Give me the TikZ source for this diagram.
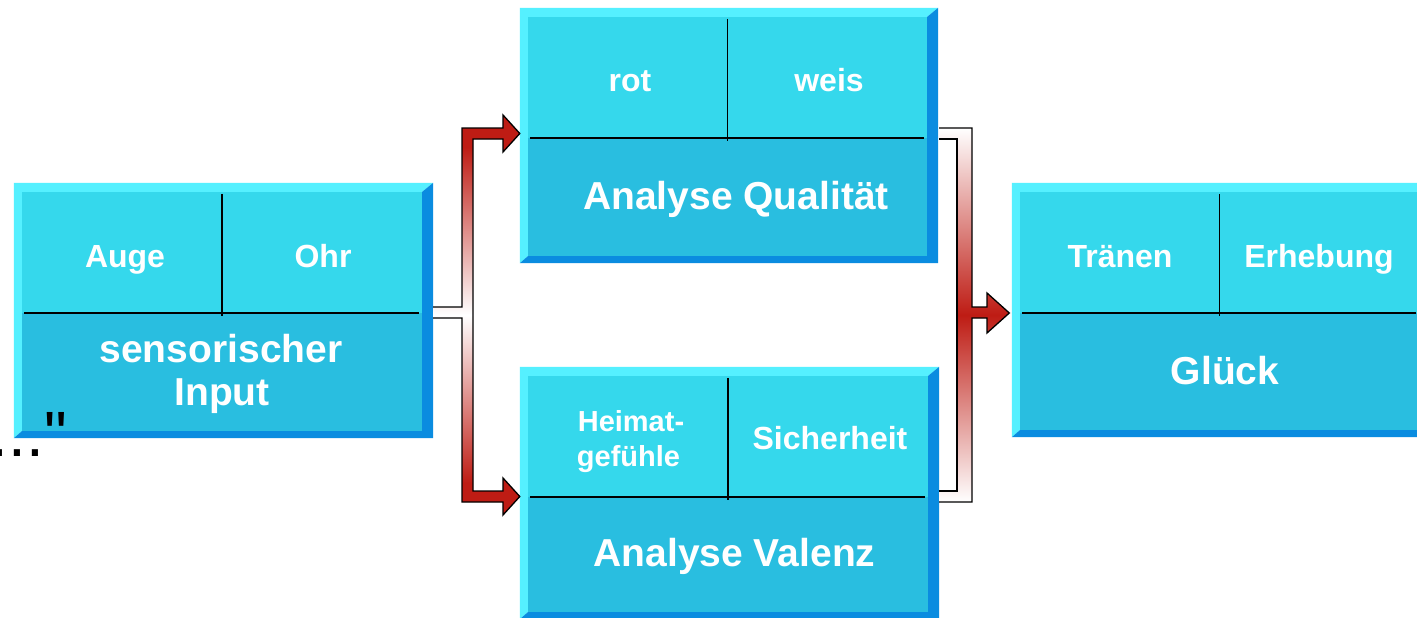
\documentclass[tikz,border=0pt]{standalone}
\usepackage{fontspec}
\setmainfont{Liberation Sans}
\newfontfamily\rawsans{Liberation Sans}
\usetikzlibrary{calc}

\definecolor{bevlight}{RGB}{85,240,255}
\definecolor{facetop}{RGB}{53,216,236}
\definecolor{facebot}{RGB}{41,190,224}
\definecolor{bevdark}{RGB}{10,140,224}
\definecolor{arrowred}{RGB}{190,28,20}

% red at both branch ends, fading to white where the stem joins
\pgfdeclareverticalshading{forkshade}{100bp}{color(0bp)=(arrowred); color(29bp)=(arrowred); color(50bp)=(white); color(71bp)=(arrowred); color(100bp)=(arrowred)}
% white at both branch ends, deepening to red at the outgoing stem
\pgfdeclareverticalshading{mergeshade}{100bp}{color(0bp)=(white); color(25bp)=(white); color(50bp)=(arrowred); color(75bp)=(white); color(100bp)=(white)}

% bevelled frame, upper band and cell dividers of a box node
\newcommand\boxdeco[1]{%
  \fill[facetop] (#1.north west) rectangle ([yshift=-121pt]#1.north east);
  \fill[bevlight] ([xshift=-8pt,yshift=9pt]#1.north west) -- ([xshift=11pt,yshift=9pt]#1.north east)
     -- (#1.north east) -- (#1.north west) -- (#1.south west) -- ([xshift=-8pt,yshift=-7pt]#1.south west) -- cycle;
  \fill[bevdark] ([xshift=11pt,yshift=9pt]#1.north east) -- ([xshift=11pt,yshift=-7pt]#1.south east)
     -- ([xshift=-8pt,yshift=-7pt]#1.south west) -- (#1.south west) -- (#1.south east) -- (#1.north east) -- cycle;
  \draw[divider] ([xshift=2pt,yshift=-121pt]#1.north west) -- ([xshift=-3pt,yshift=-121pt]#1.north east);
  \draw[divider] ([yshift=-2pt]#1.north) -- ([yshift=-124pt]#1.north);
}

\begin{document}
\begin{tikzpicture}[x=1pt,y=-1pt,
  face/.style={draw=none, fill=facebot, minimum width=400pt, minimum height=239pt, inner sep=0pt},
  divider/.style={draw=black, line width=1.5pt},
  cell/.style={text=white, font=\bfseries\fontsize{32}{38}\selectfont, anchor=base, inner sep=0pt},
  smallcell/.style={text=white, font=\bfseries\fontsize{29}{35}\selectfont, anchor=base, inner sep=0pt},
  title/.style={text=white, font=\bfseries\fontsize{39}{44}\selectfont, anchor=base, inner sep=0pt},
  arrowline/.style={draw=black, line width=1.3pt, line join=miter},
]
\path[use as bounding box, fill=white] (0,0) rectangle (1417,618);
\clip (0,0) rectangle (1417,618);

% boxes
\node[face] (sens) at (222,311.5) {};
\node[face, minimum width=399pt] (qual) at (727.5,136.5) {};
\node[face, minimum height=236pt] (val) at (728,494) {};
\node[face, minimum width=399pt, minimum height=238pt] (glueck) at (1219.5,311) {};
\boxdeco{sens}
\boxdeco{qual}
\boxdeco{val}
\boxdeco{glueck}

% labels
\node[cell] (auge) at (125,267) {Auge};
\node[cell] (ohr) at (323,267) {Ohr};
\node[title] (sensA) at (221,362) {sensorischer};
\node[title] (sensB) at (222,405) {Input};
\node[cell] (rot) at (630,92) {rot};
\node[cell] (weis) at (829,92) {weis};
\node[title] (qualT) at (736,209) {Analyse Qualität};
\node[smallcell] (heimA) at (631,431) {Heimat-};
\node[smallcell] (heimB) at (628.5,466) {gefühle};
\node[cell] (sicher) at (830,449) {Sicherheit};
\node[title] (valT) at (734.5,566) {Analyse Valenz};
\node[cell] (traenen) at (1120,267) {Tränen};
\node[cell] (erhebung) at (1319,267) {Erhebung};
\node[title] (glueckT) at (1225,384) {Glück};

% trailing marks at the lower left
\node[font=\rawsans\fontsize{64}{70}\selectfont, anchor=base east, inner sep=0pt] (trail) at (67,456) {...."};

% connector end points
\coordinate (sensOut) at ([xshift=11pt,yshift=-1pt]sens.east);
\coordinate (qualIn) at ([xshift=-8pt,yshift=3pt]qual.west);
\coordinate (valIn) at ([xshift=-8pt,yshift=-2.5pt]val.west);
\coordinate (qualOut) at ([xshift=12pt,yshift=3pt]qual.east);
\coordinate (valOut) at ([xshift=11pt,yshift=-2.5pt]val.east);
\coordinate (glueckIn) at ([xshift=-10.5pt,yshift=-2pt]glueck.west);

% fork arrow: sensory input to both analyses
\shade[shading=forkshade, arrowline]
  ($(sensOut)+(0,-5.5)$) -- (462,307) -- (462,128) -- (503,128) -- (503,115) -- (qualIn)
  -- (503,152) -- (503,139) -- (473,139) -- (473,491) -- (503,491) -- (503,478) -- (valIn)
  -- (503,515) -- (503,502) -- (462,502) -- (462,318) -- ($(sensOut)+(0,5.5)$);

% merging arrow: both analyses to the result
\shade[shading=mergeshade]
  ($(qualOut)+(0,-5.5)$) -- (972,128) -- (972,307) -- (987,307) -- (987,293) -- (glueckIn)
  -- (987,333) -- (987,318) -- (972,318) -- (972,502) -- ($(valOut)+(0,5.5)$)
  -- ($(valOut)+(0,-5.5)$) -- (957,491) -- (957,139) -- ($(qualOut)+(0,5.5)$) -- cycle;
\draw[arrowline]
  ($(qualOut)+(0,-5.5)$) -- (972,128) -- (972,307) -- (987,307) -- (987,293) -- (glueckIn)
  -- (987,333) -- (987,318) -- (972,318) -- (972,502) -- ($(valOut)+(0,5.5)$);
\draw[arrowline]
  ($(valOut)+(0,-5.5)$) -- (957,491) -- (957,139) -- ($(qualOut)+(0,5.5)$);
\end{tikzpicture}
\end{document}
